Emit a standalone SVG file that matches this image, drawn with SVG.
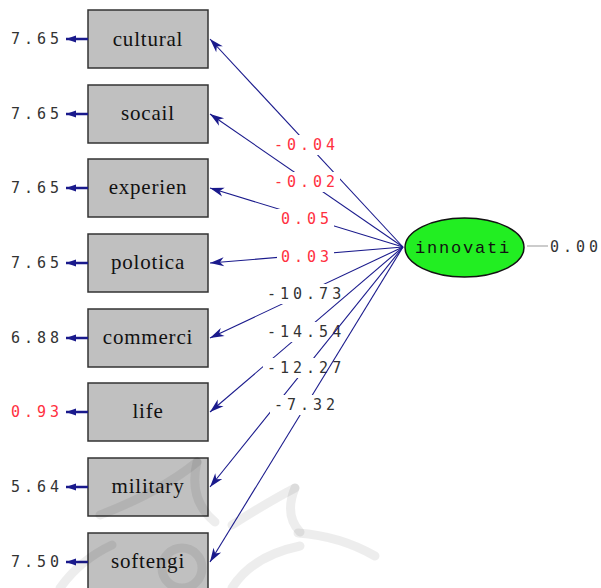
<svg xmlns="http://www.w3.org/2000/svg" width="601" height="588" viewBox="0 0 601 588">
<defs>
<marker id="ah" viewBox="-15 -5 16 10" refX="0" refY="0" markerWidth="16" markerHeight="10" markerUnits="userSpaceOnUse" orient="auto">
<path d="M0,0 L-14,-4.5 L-10,0 L-14,4.5 Z" fill="#1a1a8c"/>
</marker>
<marker id="eh" viewBox="-11 -4 12 8" refX="0" refY="0" markerWidth="12" markerHeight="8" markerUnits="userSpaceOnUse" orient="auto">
<path d="M0,0 L-10,-3.5 L-10,3.5 Z" fill="#1a1a8c"/>
</marker>
<style>
.box{fill:#c0c0c0;stroke:#333;stroke-width:1.5}
.bl{font-family:"Liberation Serif","DejaVu Serif",serif;font-size:21px;letter-spacing:0.8px;fill:#111;text-anchor:middle}
.num{font-family:"DejaVu Sans Mono","Liberation Mono",monospace;font-size:15px;letter-spacing:4px}
.red{fill:#ff3040}
.blk{fill:#333}
.ln{stroke:#1a1a8c;stroke-width:1.1;fill:none;marker-end:url(#ah)}
.err{stroke:#1a1a8c;stroke-width:2.5;fill:none;marker-end:url(#eh)}
.bg{fill:#fff}
.wm{stroke:#000;stroke-opacity:0.07;stroke-width:9;fill:none;stroke-linecap:round}
</style>
</defs>
<rect width="601" height="588" fill="#fff"/>

<g id="n-cultural"><rect class="box" x="88" y="10" width="120" height="58"/><text class="bl" x="148" y="46">cultural</text><path class="err" d="M88,39 H66"/><text class="num blk" x="11" y="44">7.65</text></g>
<g id="n-socail"><rect class="box" x="88" y="85" width="120" height="58"/><text class="bl" x="148" y="120">socail</text><path class="err" d="M88,114 H66"/><text class="num blk" x="11" y="119">7.65</text></g>
<g id="n-experien"><rect class="box" x="88" y="159" width="120" height="58"/><text class="bl" x="148" y="194">experien</text><path class="err" d="M88,188 H66"/><text class="num blk" x="11" y="193">7.65</text></g>
<g id="n-polotica"><rect class="box" x="88" y="234" width="120" height="58"/><text class="bl" x="148" y="269">polotica</text><path class="err" d="M88,263 H66"/><text class="num blk" x="11" y="268">7.65</text></g>
<g id="n-commerci"><rect class="box" x="88" y="309" width="120" height="58"/><text class="bl" x="148" y="344">commerci</text><path class="err" d="M88,338 H66"/><text class="num blk" x="11" y="343">6.88</text></g>
<g id="n-life"><rect class="box" x="88" y="383" width="120" height="58"/><text class="bl" x="148" y="418">life</text><path class="err" d="M88,412 H66"/><text class="num red" x="11" y="417">0.93</text></g>
<g id="n-military"><rect class="box" x="88" y="458" width="120" height="58"/><text class="bl" x="148" y="493">military</text><path class="err" d="M88,487 H66"/><text class="num blk" x="11" y="492">5.64</text></g>
<g id="n-softengi"><rect class="box" x="88" y="533" width="120" height="58"/><text class="bl" x="148" y="568">softengi</text><path class="err" d="M88,562 H66"/><text class="num blk" x="11" y="567">7.50</text></g>

<g id="watermark">
<path class="wm" d="M100,515 Q160,492 197,462"/>
<path class="wm" d="M197,462 Q188,500 215,522"/>
<path class="wm" d="M232,525 Q268,502 295,488"/>
<path class="wm" d="M295,488 Q284,515 300,532"/>
<circle class="wm" cx="182" cy="568" r="20"/>
<path class="wm" d="M298,533 Q340,536 375,556"/>
<path class="wm" d="M60,588 Q80,560 112,545"/>
<path class="wm" d="M232,588 Q252,556 300,546"/>
</g>

<g id="connectors">
<path class="ln" d="M403,247 L210,39"/>
<rect class="bg" x="270" y="135" width="70" height="20"/><text class="num red" x="274" y="150">-0.04</text>
<path class="ln" d="M403,247 L210,114"/>
<rect class="bg" x="270" y="172" width="70" height="20"/><text class="num red" x="274" y="187">-0.02</text>
<path class="ln" d="M403,247 L210,188"/>
<rect class="bg" x="277" y="209" width="57" height="20"/><text class="num red" x="281" y="224">0.05</text>
<path class="ln" d="M403,247 L210,263"/>
<rect class="bg" x="277" y="247" width="57" height="20"/><text class="num red" x="281" y="262">0.03</text>
<path class="ln" d="M403,247 L210,338"/>
<rect class="bg" x="263" y="284" width="83" height="20"/><text class="num blk" x="267" y="299">-10.73</text>
<path class="ln" d="M403,247 L210,412"/>
<rect class="bg" x="263" y="322" width="83" height="20"/><text class="num blk" x="267" y="337">-14.54</text>
<path class="ln" d="M403,247 L210,487"/>
<rect class="bg" x="263" y="358" width="83" height="20"/><text class="num blk" x="267" y="373">-12.27</text>
<path class="ln" d="M403,247 L210,562"/>
<rect class="bg" x="270" y="395" width="70" height="20"/><text class="num blk" x="274" y="410">-7.32</text>
<path d="M527,246 H548" stroke="#aaa" stroke-width="1.2"/>
</g>

<g id="n-innovati">
<ellipse cx="464.5" cy="247.5" rx="59.5" ry="29.5" fill="#22ee22" stroke="#111" stroke-width="1.5"/>
<text x="463" y="253" font-family="'Liberation Mono','DejaVu Sans Mono',monospace" font-size="17" letter-spacing="1.8" text-anchor="middle" fill="#111">innovati</text>
<text class="num blk" x="550" y="252">0.00</text>
</g>
</svg>
